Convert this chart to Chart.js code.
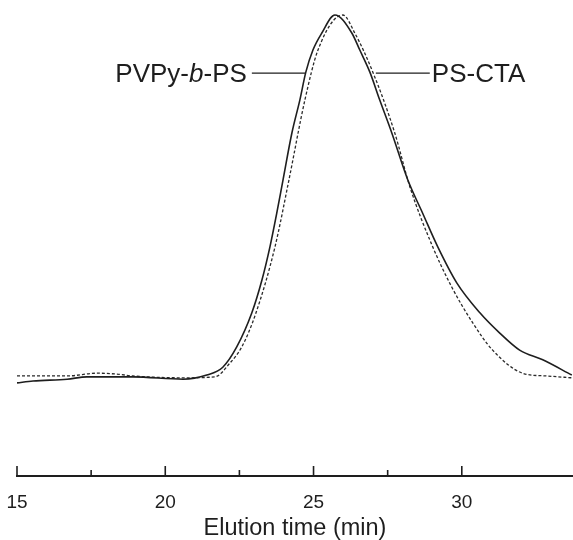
<!DOCTYPE html>
<html>
<head>
<meta charset="utf-8">
<script src="https://cdn.jsdelivr.net/npm/chart.js@4.4.0/dist/chart.umd.min.js"></script>
<style>
  html, body { margin: 0; padding: 0; background: #fff; }
</style>
</head>
<body>
<canvas id="secChart" width="573" height="540"></canvas>
<script>
// SEC traces (time in min, signal in arbitrary units)
const timePVPy = [15.0, 15.54, 16.69, 17.36, 18.91, 20.6, 21.4, 21.94, 22.41, 22.92, 23.26, 23.53, 23.76, 23.97,
  24.27, 24.54, 24.74, 24.98, 25.28, 25.72, 26.29, 26.56, 26.9, 27.23, 27.64, 28.18, 28.68, 29.19, 29.83,
  30.61, 31.28, 31.95, 32.73, 33.71];
const signalPVPy = [20.2, 20.6, 21.0, 21.5, 21.5, 21.0, 21.9, 23.6, 28.0, 35.4, 42.5, 49.7, 57.0, 64.2,
  74.4, 81.6, 87.6, 92.4, 96.1, 100.0, 96.1, 92.4, 87.6, 81.6, 74.4, 64.2, 57.0, 49.7, 41.9,
  35.4, 31.0, 27.3, 25.2, 21.9];

const timeCTA = [15.0, 16.69, 17.7, 18.37, 18.91, 20.6, 21.67, 22.18, 22.58, 23.06, 23.7, 24.17, 24.71,
  25.15, 25.99, 26.39, 27.0, 27.74, 28.25, 29.02, 29.66, 30.37, 31.04, 32.05, 32.86, 33.71];
const signalCTA = [21.7, 21.7, 22.3, 22.1, 21.7, 21.3, 21.5, 24.5, 28.0, 35.4, 49.7, 64.2, 81.6,
  92.4, 100.0, 96.1, 87.6, 74.4, 62.7, 49.7, 41.0, 33.2, 27.3, 22.3, 21.7, 21.3];

// axis ticks (majors get labels)
const xTickValues = [15, 17.5, 20, 22.5, 25, 27.5, 30];

// curve labels and their leader lines
const labelPVPy = { text: ["PVPy-", "b", "-PS"], x: 22.75, y: 85.5 };
const leaderPVPyX = [22.92, 24.74];
const labelCTA = { text: ["PS-CTA"], x: 28.99, y: 85.5 };
const leaderCTAX = [27.1, 28.92];
const leaderY = 87.4;

const ink = "#1e1e1e";
Chart.defaults.font.family = "'Liberation Sans', Arial, sans-serif";
Chart.defaults.color = ink;

function points(xs, ys) {
  return xs.map((x, i) => ({ x: x, y: ys[i] }));
}

// short inward ticks on the time axis
const tickMarks = {
  id: "tickMarks",
  afterDraw(chart) {
    const sx = chart.scales.x;
    const ctx = chart.ctx;
    ctx.save();
    ctx.strokeStyle = ink;
    ctx.lineWidth = 1.6;
    sx.ticks.forEach(t => {
      const px = sx.getPixelForValue(t.value);
      const len = t.value % 5 === 0 ? 10 : 6;
      ctx.beginPath();
      ctx.moveTo(px, sx.top);
      ctx.lineTo(px, sx.top - len);
      ctx.stroke();
    });
    ctx.restore();
  }
};

// curve names, "b" in italics
const curveNames = {
  id: "curveNames",
  afterDatasetsDraw(chart) {
    const { ctx, scales: { x, y } } = chart;
    const normal = "26px 'Liberation Sans', Arial, sans-serif";
    const italic = "italic 26px 'Liberation Sans', Arial, sans-serif";
    ctx.save();
    ctx.fillStyle = ink;
    ctx.textBaseline = "alphabetic";
    ctx.textAlign = "left";

    // PVPy-b-PS is right-aligned to its leader line
    const parts = labelPVPy.text.map((s, i) => ({ s: s, font: i === 1 ? italic : normal }));
    let total = 0;
    parts.forEach(p => { ctx.font = p.font; p.w = ctx.measureText(p.s).width; total += p.w; });
    let px = x.getPixelForValue(labelPVPy.x) - total;
    const py = y.getPixelForValue(labelPVPy.y);
    parts.forEach(p => { ctx.font = p.font; ctx.fillText(p.s, px, py); px += p.w; });

    ctx.font = normal;
    ctx.fillText(labelCTA.text[0], x.getPixelForValue(labelCTA.x), y.getPixelForValue(labelCTA.y));
    ctx.restore();
  }
};

new Chart(document.getElementById("secChart"), {
  type: "line",
  data: {
    datasets: [
      {
        label: "PVPy-b-PS",
        data: points(timePVPy, signalPVPy),
        borderColor: ink,
        borderWidth: 1.6,
        pointRadius: 0,
        cubicInterpolationMode: "monotone"
      },
      {
        label: "PS-CTA",
        data: points(timeCTA, signalCTA),
        borderColor: "#2a2a2a",
        borderWidth: 1.3,
        borderDash: [3, 2],
        pointRadius: 0,
        cubicInterpolationMode: "monotone"
      },
      {
        label: "leader1",
        data: points(leaderPVPyX, [leaderY, leaderY]),
        borderColor: ink,
        borderWidth: 1.3,
        pointRadius: 0
      },
      {
        label: "leader2",
        data: points(leaderCTAX, [leaderY, leaderY]),
        borderColor: ink,
        borderWidth: 1.3,
        pointRadius: 0
      }
    ]
  },
  options: {
    responsive: false,
    animation: false,
    layout: { padding: { left: 17, right: 0, top: 0, bottom: 0 } },
    plugins: {
      legend: { display: false },
      tooltip: { enabled: false }
    },
    scales: {
      x: {
        type: "linear",
        min: 15,
        max: 33.75,
        afterBuildTicks: (scale) => {
          scale.ticks = xTickValues.map(v => ({ value: v }));
        },
        grid: { display: false, drawTicks: false },
        border: { display: true, color: ink, width: 2 },
        ticks: {
          padding: 0,
          color: ink,
          font: { size: 19, lineHeight: "54px" },
          maxRotation: 0,
          callback: (v) => (v % 5 === 0 ? String(v) : "")
        },
        title: {
          display: true,
          text: "Elution time (min)",
          color: ink,
          font: { size: 23.5 },
          padding: { top: -15.2, bottom: -3 }
        }
      },
      y: {
        display: false,
        min: 0,
        max: 103.25
      }
    }
  },
  plugins: [tickMarks, curveNames]
});
</script>
</body>
</html>
